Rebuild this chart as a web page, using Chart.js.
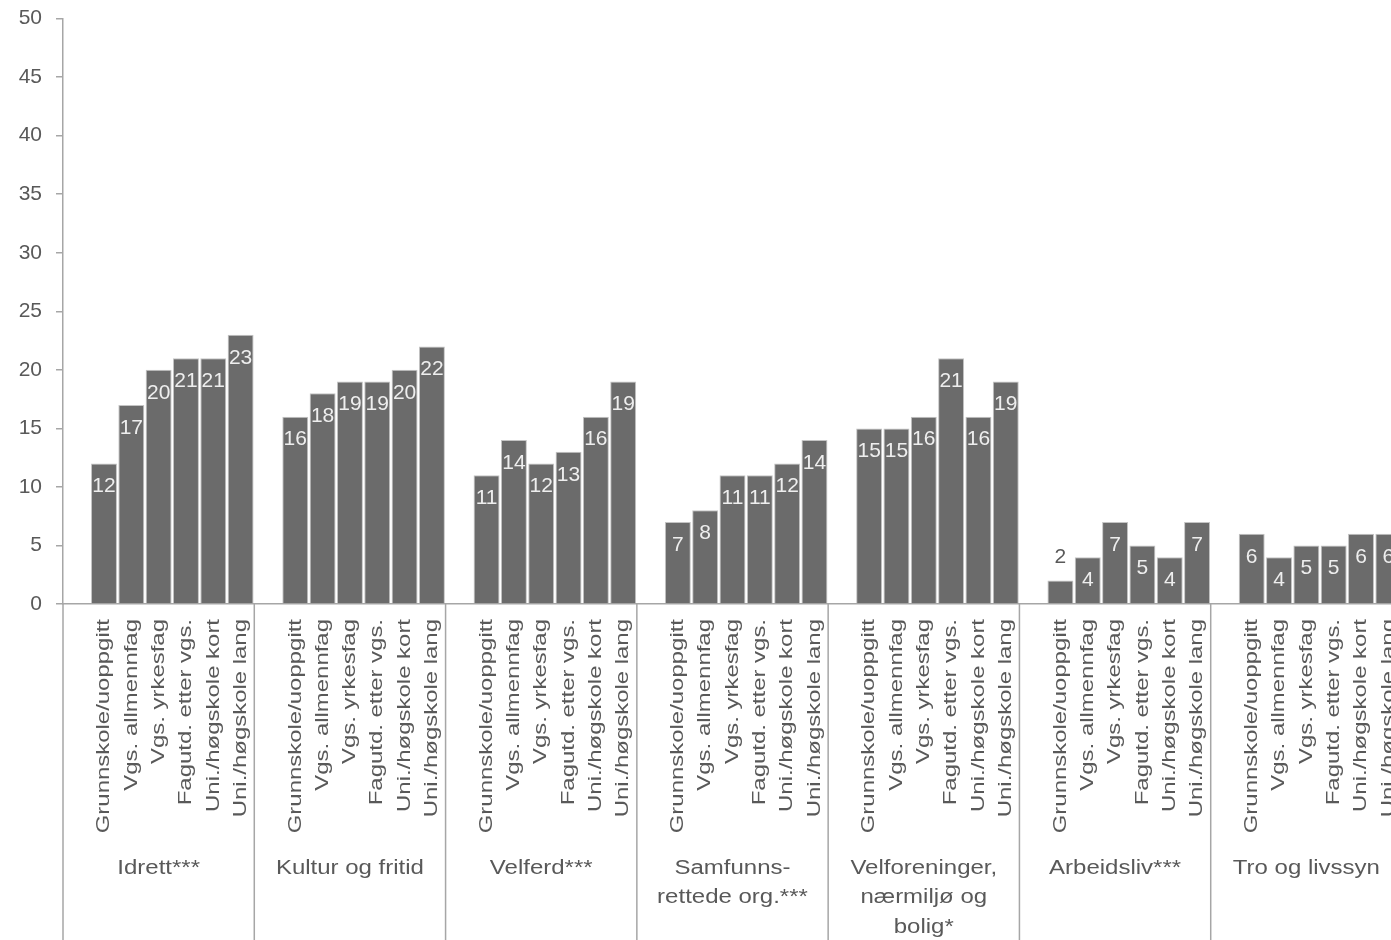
<!DOCTYPE html>
<html>
<head>
<meta charset="utf-8">
<script src="https://cdn.jsdelivr.net/npm/chart.js@4.4.1/dist/chart.umd.min.js"></script>
<style>
  html, body { margin: 0; padding: 0; background: #ffffff; overflow: hidden; }
  #wrap { position: absolute; left: 0; top: -8px; width: 1402px; height: 948px; }
</style>
</head>
<body>
<div id="wrap"><canvas id="chart"></canvas></div>
<script>
// Organisation types (one group of bars each)
const groups = [
  ['Idrett***'],
  ['Kultur og fritid'],
  ['Velferd***'],
  ['Samfunns-', 'rettede org.***'],
  ['Velforeninger,', 'nærmiljø og', 'bolig*'],
  ['Arbeidsliv***'],
  ['Tro og livssyn']
];
// Education levels (one bar each inside a group)
const education = [
  'Grunnskole/uoppgitt',
  'Vgs. allmennfag',
  'Vgs. yrkesfag',
  'Fagutd. etter vgs.',
  'Uni./høgskole kort',
  'Uni./høgskole lang'
];
// Percent per group, in the order of the education levels
const idrett        = [12, 17, 20, 21, 21, 23];
const kultur        = [16, 18, 19, 19, 20, 22];
const velferd       = [11, 14, 12, 13, 16, 19];
const samfunn       = [7, 8, 11, 11, 12, 14];
const velforeninger = [15, 15, 16, 21, 16, 19];
const arbeidsliv    = [2, 4, 7, 5, 4, 7];
const tro           = [6, 4, 5, 5, 6, 6];
const yTicks = [0, 5, 10, 15, 20, 25, 30, 35, 40, 45, 50];

const seriesByGroup = [idrett, kultur, velferd, samfunn, velforeninger, arbeidsliv, tro];

// Each group gets one empty leading slot followed by its six bars
const SLOTS = education.length + 1;
const slotLabels = [];
const slotValues = [];
seriesByGroup.forEach(vals => {
  slotLabels.push('');
  slotValues.push(null);
  vals.forEach((v, i) => { slotLabels.push(education[i]); slotValues.push(v); });
});

const FONT = '"Liberation Sans", Arial, sans-serif';
const TEXT = '#595959';
const LINE = '#a6a6a6';

// Value labels: inside the bar near its top, or above short bars
const valueLabels = {
  id: 'valueLabels',
  afterDatasetsDraw(chart) {
    const ctx = chart.ctx;
    const meta = chart.getDatasetMeta(0);
    ctx.save();
    ctx.font = '21px ' + FONT;
    ctx.textAlign = 'center';
    ctx.textBaseline = 'middle';
    meta.data.forEach((bar, i) => {
      const v = slotValues[i];
      if (v === null) return;
      const h = bar.base - bar.y;
      if (h > 35) {
        ctx.fillStyle = '#eeeeee';
        ctx.fillText(String(v), bar.x, bar.y + 23);
      } else {
        ctx.fillStyle = TEXT;
        ctx.fillText(String(v), bar.x, bar.y - 23);
      }
    });
    ctx.restore();
  }
};

// Rotated education labels, group separators and group names
const groupAxis = {
  id: 'groupAxis',
  afterDraw(chart) {
    const ctx = chart.ctx;
    const x = chart.scales.x;
    const area = chart.chartArea;
    const slotW = x.getPixelForValue(1) - x.getPixelForValue(0);
    ctx.save();

    // education labels, reading upwards, ending just below the axis
    ctx.font = '19px ' + FONT;
    ctx.fillStyle = TEXT;
    ctx.textAlign = 'right';
    ctx.textBaseline = 'middle';
    slotLabels.forEach((t, i) => {
      if (!t) return;
      ctx.save();
      ctx.translate(x.getPixelForValue(i), area.bottom + 15);
      ctx.rotate(-Math.PI / 2);
      ctx.scale(1.26, 1);
      ctx.fillText(t, 0, 0);
      ctx.restore();
    });

    // separators between groups
    ctx.strokeStyle = LINE;
    ctx.lineWidth = 1.5;
    for (let g = 0; g <= groups.length; g++) {
      const px = x.getPixelForValue(g * SLOTS) - slotW / 2;
      ctx.beginPath();
      ctx.moveTo(px, area.bottom);
      ctx.lineTo(px, chart.height);
      ctx.stroke();
    }

    // group names
    ctx.font = '20px ' + FONT;
    ctx.textAlign = 'center';
    const nameTop = area.bottom + 264;
    groups.forEach((lines, g) => {
      const left = x.getPixelForValue(g * SLOTS) - slotW / 2;
      const cx = left + (slotW * SLOTS) / 2;
      lines.forEach((t, k) => {
        ctx.save();
        ctx.translate(cx, nameTop + k * 29.5);
        ctx.scale(1.2, 1);
        ctx.fillText(t, 0, 0);
        ctx.restore();
      });
    });
    ctx.restore();
  }
};

new Chart(document.getElementById('chart'), {
  type: 'bar',
  data: {
    labels: slotLabels,
    datasets: [{
      data: slotValues,
      backgroundColor: '#6b6b6b',
      borderColor: '#c4c4c4',
      borderWidth: 1,
      barPercentage: 0.95,
      categoryPercentage: 1.0
    }]
  },
  options: {
    responsive: true,
    maintainAspectRatio: false,
    animation: false,
    layout: { padding: { top: 10, right: 0, bottom: 0, left: 0 } },
    plugins: { legend: { display: false }, tooltip: { enabled: false } },
    scales: {
      x: {
        grid: { display: false },
        border: { display: true, color: LINE, width: 1.5 },
        ticks: { display: false },
        afterFit(scale) { scale.height = 336; }
      },
      y: {
        min: 0,
        max: 50,
        afterBuildTicks(scale) { scale.ticks = yTicks.map(v => ({ value: v })); },
        grid: { drawOnChartArea: false, drawTicks: true, tickLength: 7, color: LINE, lineWidth: 1.5 },
        border: { display: true, color: LINE, width: 1.5 },
        ticks: {
          padding: 14,
          color: TEXT,
          font: { family: FONT, size: 21 }
        },
        afterFit(scale) { scale.width = 63; }
      }
    }
  },
  plugins: [valueLabels, groupAxis]
});
</script>
</body>
</html>
